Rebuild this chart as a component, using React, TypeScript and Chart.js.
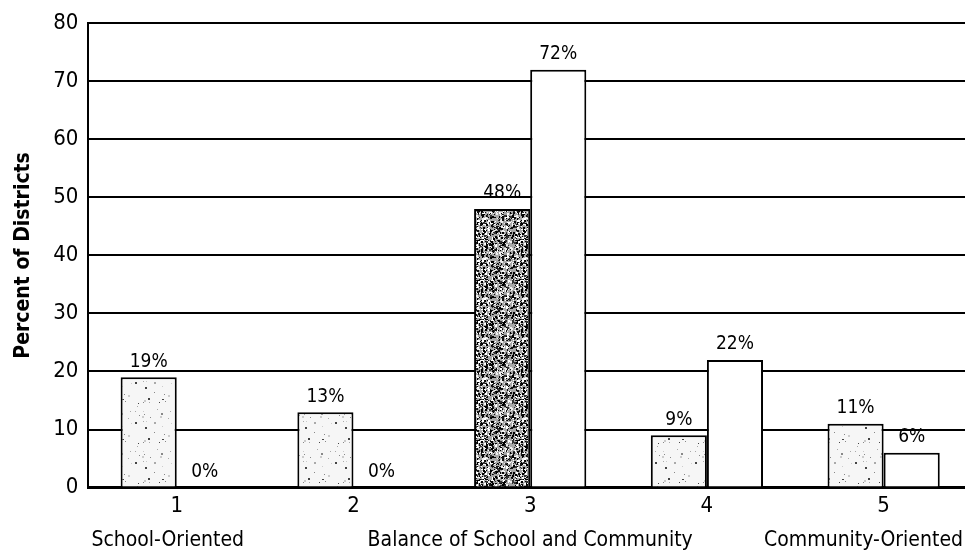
import React, { useEffect, useRef } from "react";
import { Chart, registerables } from "chart.js";

Chart.register(...registerables);

const categories = ["1", "2", "3", "4", "5"];
const subLabels = ["School-Oriented", "", "Balance of School and Community", "", "Community-Oriented"];
const seriesA = [19, 13, 48, 9, 11];
const seriesB = [0, 0, 72, 22, 6];
const yTicks = [0, 10, 20, 30, 40, 50, 60, 70, 80];
const yTitle = "Percent of Districts";

const FONT = "'DejaVu Sans Condensed', 'Liberation Sans Narrow', sans-serif";

function makePattern(bg: string, dots: string[], count: number, size: number, seed: number): CanvasPattern | string {
  const c = document.createElement("canvas");
  c.width = size;
  c.height = size;
  const ctx = c.getContext("2d");
  if (!ctx) return bg;
  ctx.fillStyle = bg;
  ctx.fillRect(0, 0, size, size);
  let s = seed;
  const next = () => {
    s = (s * 1103515245 + 12345) % 2147483648;
    return s / 2147483648;
  };
  for (let i = 0; i < count; i++) {
    const x = Math.floor(next() * size);
    const y = Math.floor(next() * size);
    const w = next() < 0.3 ? 2 : 1;
    ctx.fillStyle = dots[Math.floor(next() * dots.length)];
    ctx.fillRect(x, y, w, w);
  }
  const p = ctx.createPattern(c, "repeat");
  return p || bg;
}

export default function App() {
  const ref = useRef<HTMLCanvasElement | null>(null);

  useEffect(() => {
    document.body.style.margin = "0";
    document.body.style.overflow = "hidden";
    const canvas = ref.current;
    if (!canvas) return;

    const light = makePattern("#f6f6f6", ["#444", "#aaa", "#888", "#ccc"], 30, 40, 7);
    const dark = makePattern("#a8a8a8", ["#000", "#fff", "#111", "#eee", "#333", "#fff", "#000"], 700, 40, 3);
    const colorsA = seriesA.map((_, i) => (i === 2 ? dark : light));

    const labelPlugin = {
      id: "valueLabels",
      afterDatasetsDraw(chart: any) {
        const ctx = chart.ctx;
        ctx.save();
        ctx.font = `19px ${FONT}`;
        ctx.fillStyle = "#000";
        ctx.textAlign = "center";
        ctx.textBaseline = "bottom";
        chart.data.datasets.forEach((ds: any, di: number) => {
          const meta = chart.getDatasetMeta(di);
          meta.data.forEach((el: any, i: number) => {
            ctx.fillText(`${ds.data[i]}%`, el.x, el.y - 6);
          });
        });
        ctx.restore();
      },
    };

    const subLabelPlugin = {
      id: "subLabels",
      afterDraw(chart: any) {
        const ctx = chart.ctx;
        const xs = chart.scales.x;
        const area = chart.chartArea;
        ctx.save();
        ctx.font = `21px ${FONT}`;
        ctx.fillStyle = "#000";
        ctx.textBaseline = "middle";
        const last = subLabels.length - 1;
        subLabels.forEach((t, i) => {
          if (!t) return;
          if (i === 0) {
            ctx.textAlign = "left";
            ctx.fillText(t, area.left + 3, 541);
          } else if (i === last) {
            ctx.textAlign = "right";
            ctx.fillText(t, area.right - 9, 541);
          } else {
            ctx.textAlign = "center";
            ctx.fillText(t, xs.getPixelForValue(i), 541);
          }
        });
        ctx.restore();
      },
    };

    const chart = new Chart(canvas, {
      type: "bar",
      data: {
        labels: categories,
        datasets: [
          {
            data: seriesA,
            backgroundColor: colorsA as any,
            borderColor: "#000",
            borderWidth: 2,
            barPercentage: 1,
            categoryPercentage: 0.635,
          },
          {
            data: seriesB,
            backgroundColor: "#fff",
            borderColor: "#000",
            borderWidth: 2,
            barPercentage: 1,
            categoryPercentage: 0.635,
          },
        ],
      },
      options: {
        animation: false,
        responsive: false,
        layout: { padding: { top: 10, right: 0, bottom: 34, left: 2 } },
        plugins: { legend: { display: false }, tooltip: { enabled: false } },
        scales: {
          x: {
            grid: { display: false, drawTicks: false },
            border: { display: true, color: "#000", width: 3 },
            ticks: { color: "#000", font: { family: FONT, size: 22 }, padding: 5 },
          },
          y: {
            min: 0,
            max: 80,
            afterBuildTicks: (axis: any) => {
              axis.ticks = yTicks.map((v) => ({ value: v }));
            },
            grid: { color: "#000", lineWidth: 2, drawTicks: false },
            border: { display: true, color: "#000", width: 2 },
            ticks: { color: "#000", font: { family: FONT, size: 22 }, padding: 10 },
            title: {
              display: true,
              text: yTitle,
              color: "#000",
              font: { family: FONT, size: 21, weight: "bold" },
              padding: { top: 9, bottom: 7 },
            },
          },
        },
      },
      plugins: [labelPlugin, subLabelPlugin],
    });
    return () => chart.destroy();
  }, []);

  return (
    <div style={{ position: "absolute", left: 0, top: 0, width: 972, height: 558, overflow: "hidden" }}>
      <canvas ref={ref} width={972} height={558} style={{ display: "block" }} />
    </div>
  );
}
